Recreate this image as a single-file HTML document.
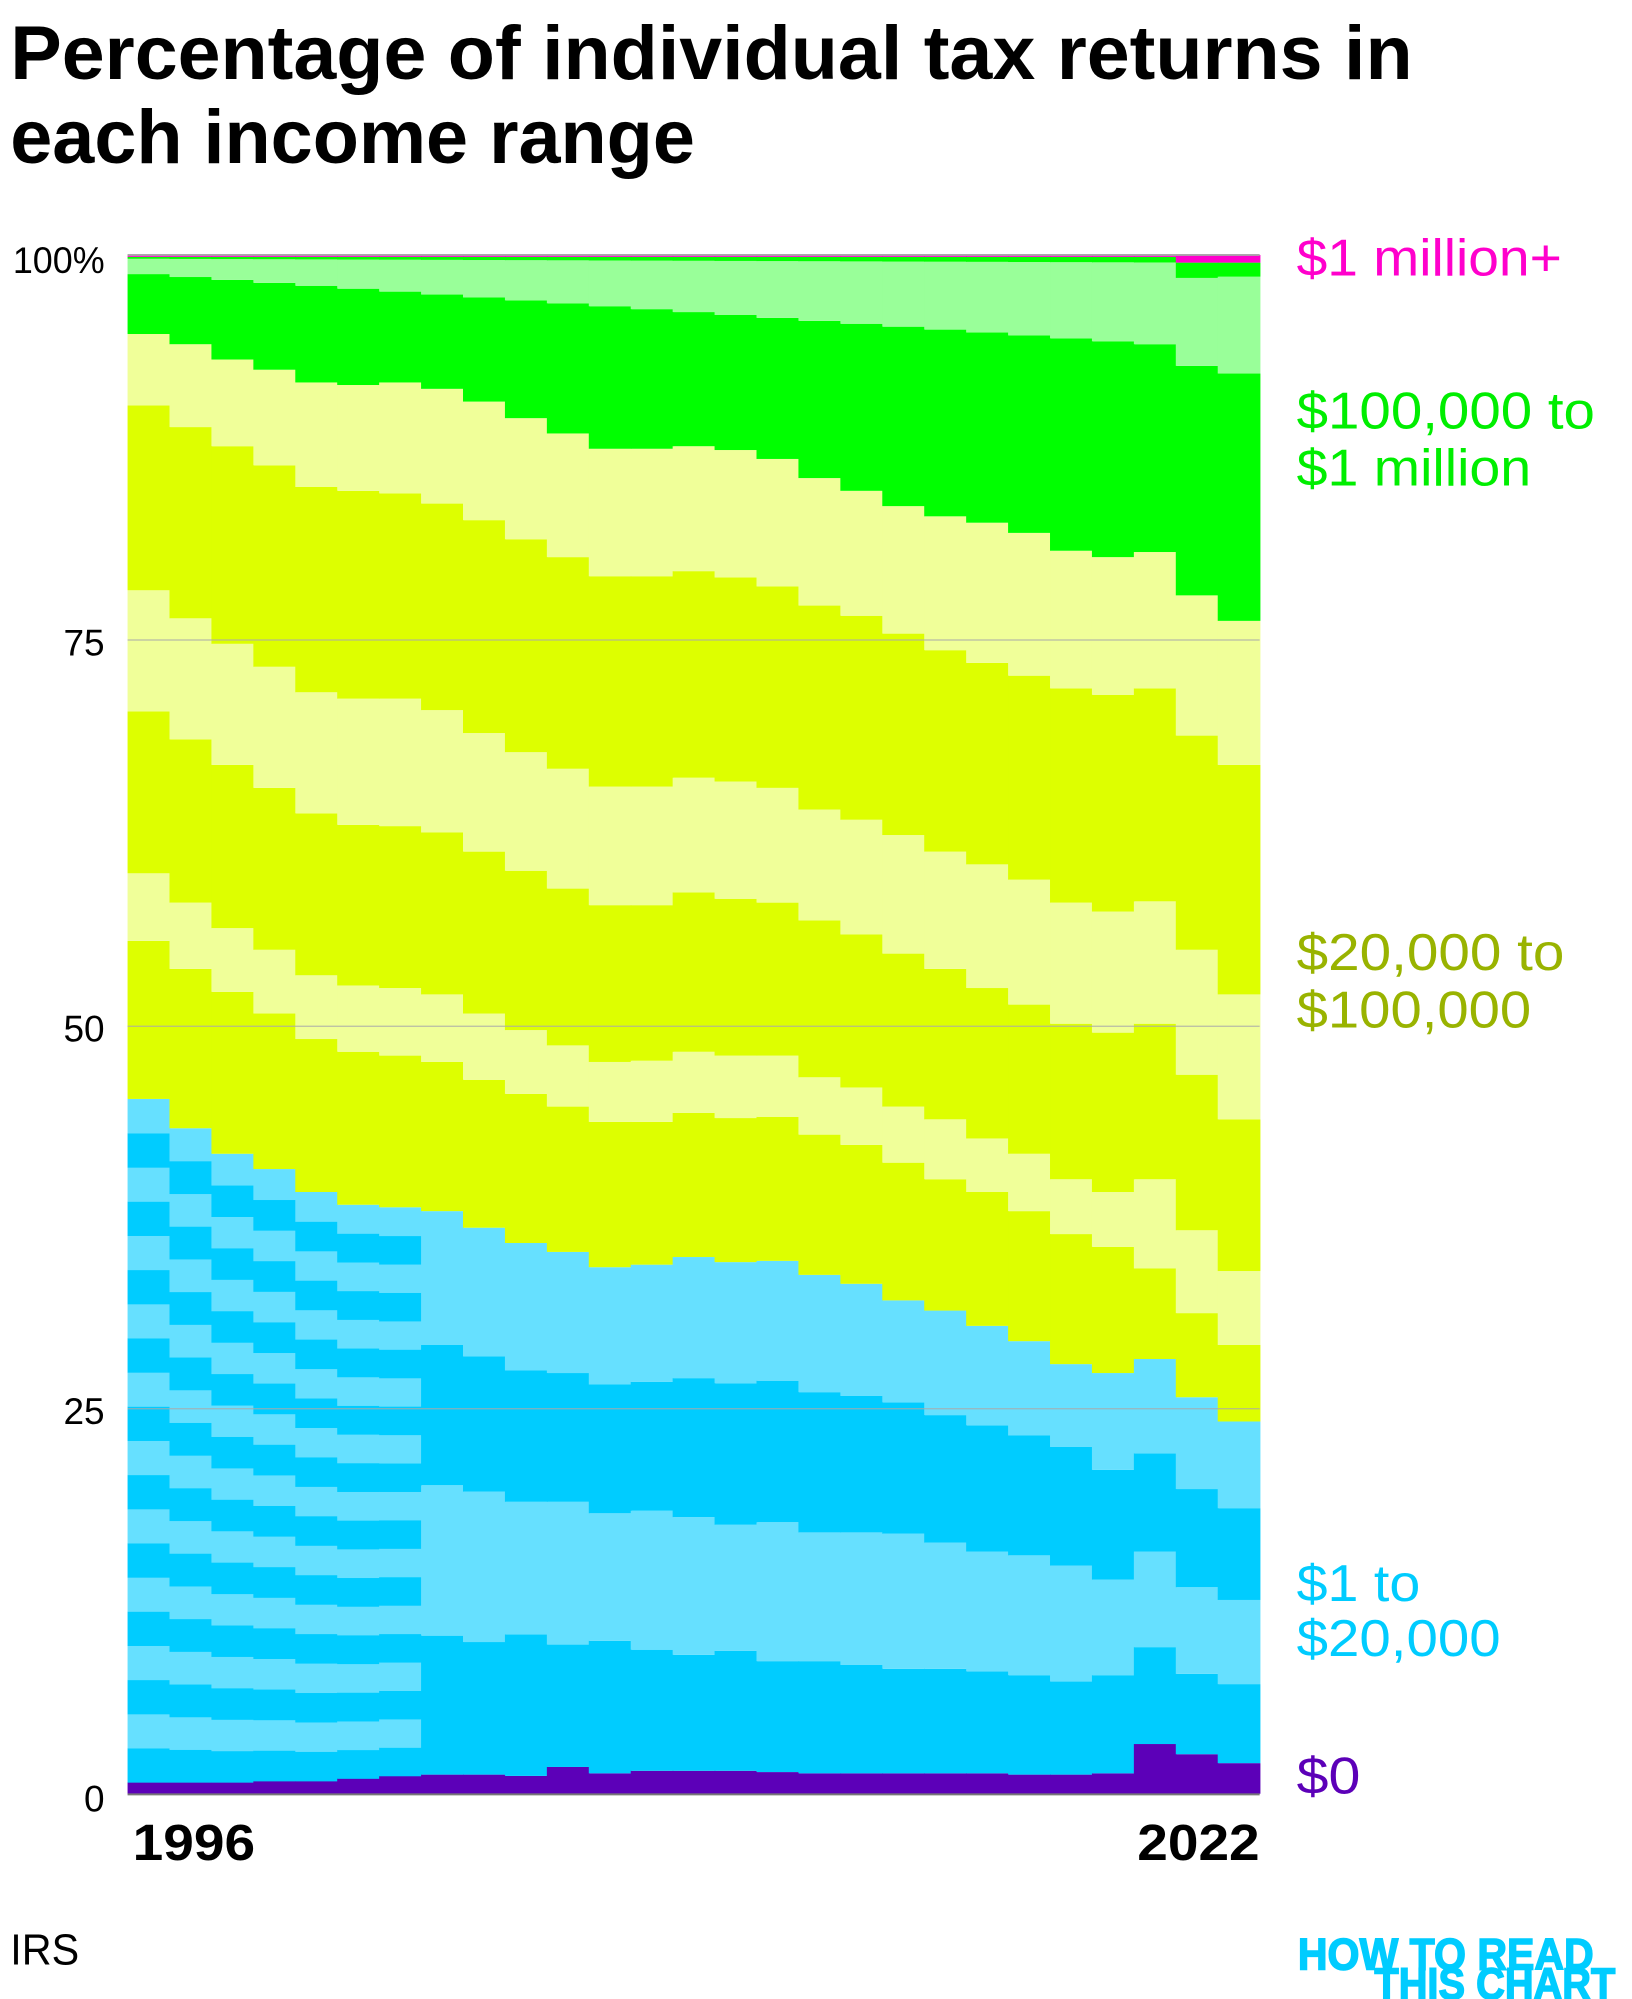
<!DOCTYPE html>
<html><head><meta charset="utf-8"><style>
html,body{margin:0;padding:0;background:#fff;}
svg{display:block;}
text{font-family:"Liberation Sans",sans-serif;}
</style></head><body>
<svg id="s" width="1632" height="1999" viewBox="0 0 1280 1568" xmlns="http://www.w3.org/2000/svg">
<rect width="1280" height="1568" fill="#fff"/>
<g id="bars"></g>
<line x1="100" x2="988" y1="502" y2="502" stroke="#aaa" stroke-width="1" opacity="0.8"/>
<line x1="100" x2="988" y1="805" y2="805" stroke="#aaa" stroke-width="1" opacity="0.8"/>
<line x1="100" x2="988" y1="1105" y2="1105" stroke="#aaa" stroke-width="1" opacity="0.8"/>
<line x1="100" x2="988" y1="200" y2="200" stroke="#aaa" stroke-width="1.5"/>
<line x1="100" x2="988" y1="1407.5" y2="1407.5" stroke="#777" stroke-width="1.5"/>
<text x="8" y="62" font-size="60" font-weight="bold" textLength="1100" lengthAdjust="spacingAndGlyphs">Percentage of individual tax returns in</text>
<text x="8" y="128" font-size="60" font-weight="bold" textLength="537" lengthAdjust="spacingAndGlyphs">each income range</text>
<text x="82" y="214" font-size="29" text-anchor="end" textLength="72" lengthAdjust="spacingAndGlyphs">100%</text>
<text x="82" y="514" font-size="29" text-anchor="end">75</text>
<text x="82" y="817" font-size="29" text-anchor="end">50</text>
<text x="82" y="1117" font-size="29" text-anchor="end">25</text>
<text x="82" y="1421" font-size="29" text-anchor="end">0</text>
<text x="104" y="1459" font-size="40" font-weight="bold" textLength="96" lengthAdjust="spacingAndGlyphs">1996</text>
<text x="892" y="1459" font-size="40" font-weight="bold" textLength="96" lengthAdjust="spacingAndGlyphs">2022</text>
<g font-size="41">
<text x="1017" y="216" fill="#ff00cc" textLength="208" lengthAdjust="spacingAndGlyphs">$1 million+</text>
<text x="1017" y="336" fill="#00ee00" textLength="234" lengthAdjust="spacingAndGlyphs">$100,000 to</text>
<text x="1017" y="381" fill="#00ee00" textLength="184" lengthAdjust="spacingAndGlyphs">$1 million</text>
<text x="1017" y="761" fill="#99b300" textLength="210" lengthAdjust="spacingAndGlyphs">$20,000 to</text>
<text x="1017" y="806" fill="#99b300" textLength="184" lengthAdjust="spacingAndGlyphs">$100,000</text>
<text x="1017" y="1256" fill="#00ccff" textLength="97" lengthAdjust="spacingAndGlyphs">$1 to</text>
<text x="1017" y="1299" fill="#00ccff" textLength="160" lengthAdjust="spacingAndGlyphs">$20,000</text>
<text x="1017" y="1407" fill="#5c00b8" textLength="50" lengthAdjust="spacingAndGlyphs">$0</text>
</g>
<text x="8" y="1541" font-size="34" textLength="54" lengthAdjust="spacingAndGlyphs">IRS</text>
<text x="1018" y="1545" font-size="35" font-weight="bold" fill="#00ccff" stroke="#00ccff" stroke-width="1.2" textLength="232" lengthAdjust="spacingAndGlyphs">HOW TO READ</text>
<text x="1078" y="1568" font-size="35" font-weight="bold" fill="#00ccff" stroke="#00ccff" stroke-width="1.2" textLength="189" lengthAdjust="spacingAndGlyphs">THIS CHART</text>
</svg>
<script>
(function(){
var NS="http://www.w3.org/2000/svg",g=document.getElementById("bars");
var X0=100,W=888/27;
var P=[1398,1398,1398,1397,1397,1395,1393,1392,1392,1393,1386,1391,1389,1389,1389,1390,1391,1391,1391,1391,1391,1392,1392,1391,1368,1376,1383];
var b1=[1283,1288,1282,1290,1287,1294,1298,1295,1303,1303,1306,1309,1309,1311,1314,1319,1314,1292,1313,1321];
var b2=[1165,1170,1178,1178,1187,1185,1190,1196,1194,1202,1202,1203,1210,1217,1220,1228,1239,1217,1245,1255];
var b3=[1055,1064,1075,1077,1086,1084,1081,1085,1083,1092,1095,1100,1110,1118,1126,1135,1153,1140,1168,1183];
var BT=[862,885,905,917,935,945,947,950,963,975,982,994,992,986,990,989,1000,1007,1020,1028,1040,1052,1070,1077,1066,1096,1115];
var Y1=[738,760,778,795,815,825,828,833,847,858,868,880,880,873,877,876,890,898,912,925,935,950,968,978,995,1030,1055];
var Y2=[685,708,728,745,765,773,775,780,795,808,820,833,832,825,828,828,845,853,868,878,893,905,925,935,925,965,997];
var Y3=[558,580,600,618,638,647,648,653,668,683,697,710,710,700,705,708,722,733,748,760,775,788,803,810,803,843,878];
var Y4=[463,485,505,523,543,548,548,557,575,590,603,617,617,610,613,618,635,643,655,668,678,690,708,715,707,745,780];
var Y5=[318,335,350,365,382,385,387,395,408,423,437,452,452,448,453,460,475,483,497,510,520,530,540,545,540,577,600];
var Y6=[262,270,282,290,300,302,300,305,315,328,340,352,352,350,353,360,375,385,397,405,410,418,432,437,433,467,487];
var DB="#00ccff",LB="#66e0ff",DY="#ddff00",LY="#f0ff99";
function r(x,y1,y2,c){if(y2<=y1)return;var e=document.createElementNS(NS,"rect");e.setAttribute("x",x.toFixed(2));e.setAttribute("width",(W+0.6).toFixed(2));e.setAttribute("y",y1);e.setAttribute("height",y2-y1);e.setAttribute("fill",c);g.appendChild(e);}
for(var i=0;i<27;i++){
 var x=X0+i*W;
 r(x,P[i],1407,"#5c00b8");
 if(i<7){
  var n=20,h=(P[i]-BT[i])/n;
  for(var k=0;k<n;k++){r(x,P[i]-(k+1)*h,P[i]-k*h+0.3,k%2==0?DB:LB);}
 } else {
  var j=i-7;
  r(x,b1[j],P[i],DB);r(x,b2[j],b1[j],LB);r(x,b3[j],b2[j],DB);r(x,BT[i],b3[j],LB);
 }
 r(x,Y1[i],BT[i],DY);r(x,Y2[i],Y1[i],LY);r(x,Y3[i],Y2[i],DY);r(x,Y4[i],Y3[i],LY);r(x,Y5[i],Y4[i],DY);r(x,Y6[i],Y5[i],LY);
 var G1=i<25?215+i*55/24:(i==25?287:293);
 var G2=i<25?203+i*0.12:(i==25?218:217);
 var G3=i<25?201.5:206;
 r(x,G1,Y6[i],"#00ff00");r(x,G2,G1,"#99ff99");r(x,G3,G2,"#00ff00");r(x,200,G3,"#ff00cc");
}
})();
</script>
</body></html>
